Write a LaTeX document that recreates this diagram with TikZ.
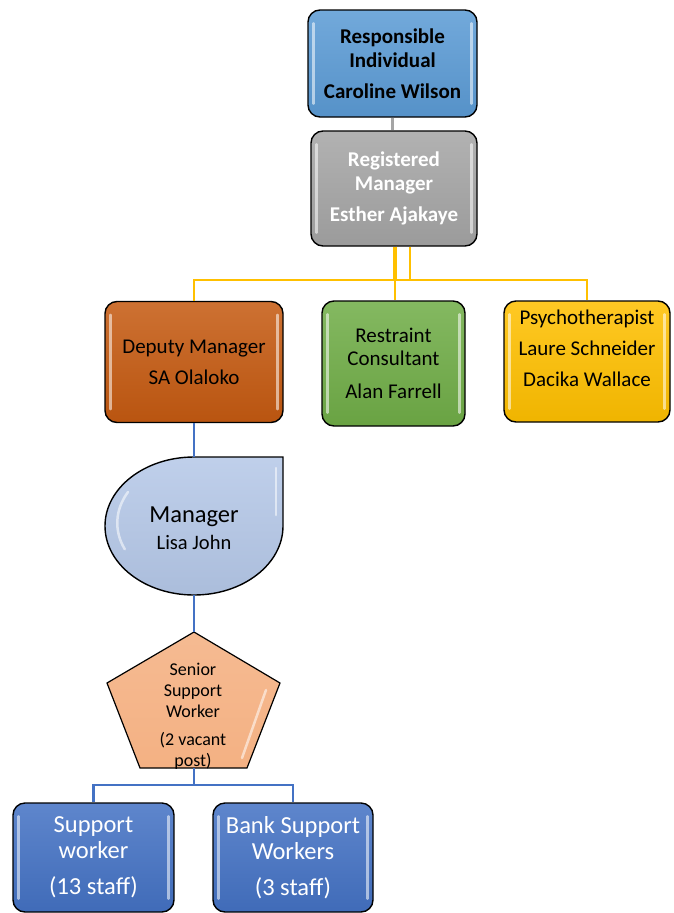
\documentclass[tikz,border=0pt]{standalone}
\usepackage{fontspec}
\setmainfont{Carlito}
\usetikzlibrary{positioning,calc}
\definecolor{riblue}{HTML}{5B9BD5}
\definecolor{rmgray}{HTML}{A5A5A5}
\definecolor{dmorange}{HTML}{C55A11}
\definecolor{rcgreen}{HTML}{70AD47}
\definecolor{psyellow}{HTML}{FFC000}
\definecolor{mgrblue}{HTML}{B4C7E7}
\definecolor{sswpeach}{HTML}{F4B183}
\definecolor{swblue}{HTML}{4472C4}

\begin{document}
\begin{tikzpicture}[x=1pt,y=1pt,
  box/.style={draw=black,line width=1.4pt,rounded corners=12pt,align=center,inner sep=0pt,
    top color=#1!86!white,bottom color=#1!94!black},
  gloss/.style={white,opacity=.55,line width=2.5pt,line cap=round},
  toprow/.style={font=\fontsize{21}{24}\selectfont\bfseries},
  midrow/.style={font=\fontsize{21}{23}\selectfont},
  botrow/.style={font=\fontsize{24.5}{26}\selectfont,text=white},
  ylink/.style={psyellow,line width=2.5pt},
  blink/.style={swblue,line width=2.5pt}]
\useasboundingbox (0,0) rectangle (673,-913);

% top of the chart
\node[box=riblue,toprow,minimum width=169pt,minimum height=107pt] (ri) at (392.5,-63.5)
  {Responsible\\Individual\\[7pt]Caroline Wilson};
\node[box=rmgray,toprow,text=white,minimum width=166pt,minimum height=115pt] (rm) at (394,-188.5)
  {Registered\\Manager\\[7pt]Esther Ajakaye};

% second row
\node[box=dmorange,midrow,minimum width=178pt,minimum height=121pt] (dm) at (194,-362)
  {Deputy Manager\\[8pt]SA Olaloko};
\node[box=rcgreen,midrow,minimum width=143pt,minimum height=125pt] (rc) at (393.5,-363.5)
  {Restraint\\Consultant\\[10pt]Alan Farrell};
\node[box=psyellow,minimum width=166pt,minimum height=121pt] (ps) at (587,-361.5) {};
\node[midrow,align=center,inner sep=0pt] (pstext) at (587,-348.5)
  {Psychotherapist\\[8pt]Laure Schneider\\[8pt]Dacika Wallace};

% manager drop
\draw[black,line width=1.4pt,top color=mgrblue!85!white,bottom color=mgrblue!95!black]
  (283,-457) -- (283,-526) arc[start angle=0,end angle=-270,x radius=89,y radius=69] -- cycle;
\draw[gloss] (128,-492) arc[start angle=150,end angle=205,x radius=80,y radius=62];
\draw[gloss] (276,-468) -- (276,-515);
\coordinate (mgrtop) at (194,-457);
\coordinate (mgrbot) at (194,-595);
\node[align=center,inner sep=0pt] (mgr) at (194,-528)
  {\fontsize{24.5}{27}\selectfont Manager\\[7pt]\fontsize{20.5}{23}\selectfont Lisa John};

% senior support worker
\draw[black,line width=1.2pt,top color=sswpeach!88!white,bottom color=sswpeach]
  (194,-632) -- (280,-683) -- (247,-768) -- (140,-768) -- (107,-683) -- cycle;
\draw[gloss] (266,-690) -- (242,-758);
\coordinate (sswtop) at (194,-632);
\coordinate (sswbot) at (194,-768);
\node[align=center,inner sep=0pt,font=\fontsize{18}{21}\selectfont] (ssw) at (193,-716)
  {Senior\\Support\\Worker\\[7pt](2 vacant\\post)};

% support workers
\node[box=swblue,botrow,minimum width=161pt,minimum height=109pt] (sw) at (93.5,-857.5)
  {Support\\worker\\[10pt](13 staff)};
\node[box=swblue,botrow,minimum width=160pt,minimum height=109pt] (bsw) at (293,-857.5)
  {Bank Support\\Workers\\[10pt](3 staff)};

\foreach \n in {ri,rm,dm,rc,ps,sw,bsw} {
  \draw[gloss] ([xshift=6pt,yshift=-14pt]\n.north west) -- ([xshift=6pt,yshift=14pt]\n.south west);
  \draw[gloss] ([xshift=-6pt,yshift=-14pt]\n.north east) -- ([xshift=-6pt,yshift=14pt]\n.south east);
}

% connectors
\draw[rmgray,line width=3pt] (ri.south) -- (ri.south |- rm.north);
\coordinate (bus) at (395,-280);
\draw[ylink,line width=3.5pt] (rm.south -| bus) -- (bus);
\draw[ylink] (bus) -- (bus |- rc.north);
\draw[ylink] (bus) -| (dm.north);
\draw[ylink] (bus) -| (ps.north);
\draw[ylink] ([xshift=15pt]rm.south -| bus) |- (bus);
\draw[blink] (dm.south) -- (mgrtop);
\draw[blink] (mgrbot) -- (sswtop);
\draw[blink] (sswbot) -- ++(0,-17) coordinate (fork) -| (sw.north);
\draw[blink] (fork) -| (bsw.north);
\end{tikzpicture}
\end{document}
